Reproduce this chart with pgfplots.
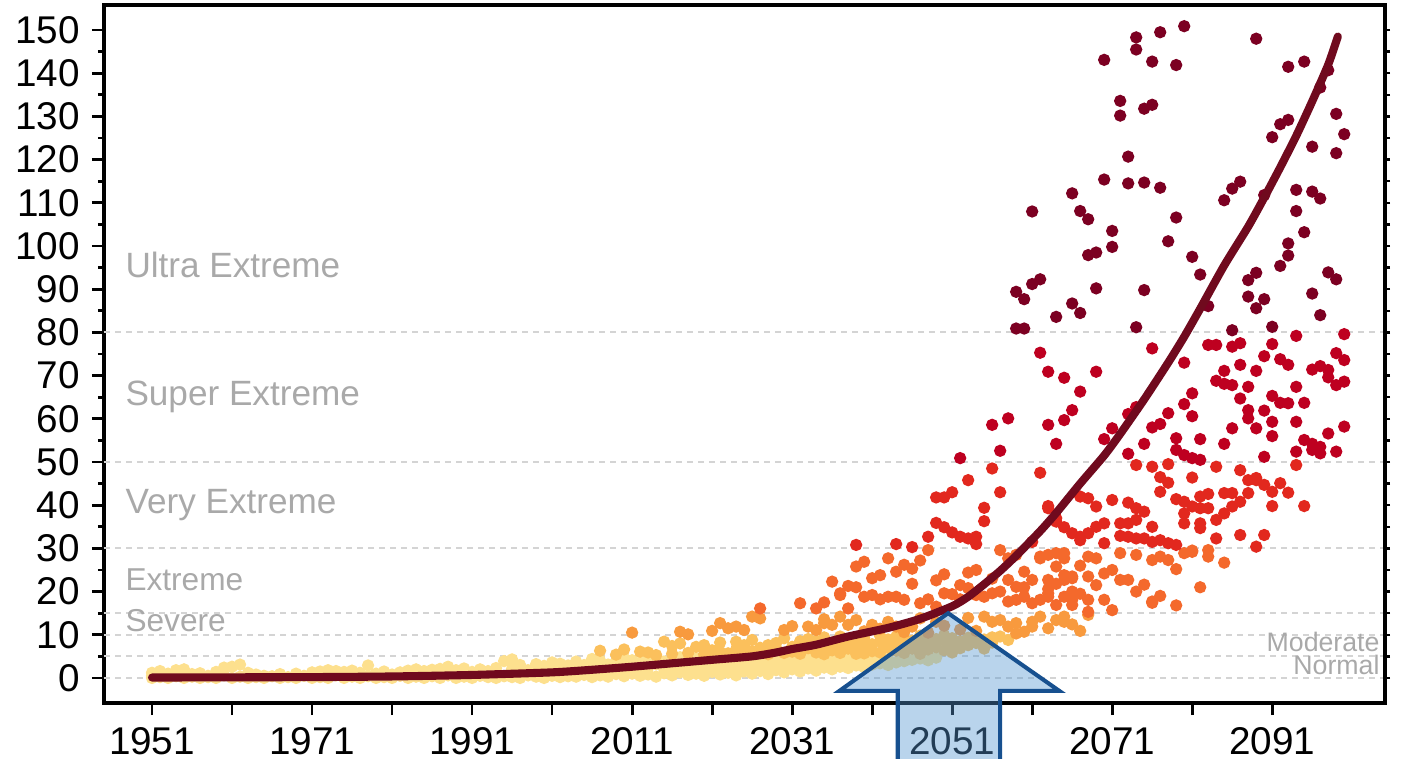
\documentclass[border=0pt]{standalone}
\usepackage{fontspec}
\setmainfont{Liberation Sans}
\usepackage{pgfplots}
\pgfplotsset{compat=1.18}

\definecolor{cNormal}{HTML}{FDE08E}
\definecolor{cModerate}{HTML}{FBC05C}
\definecolor{cSevere}{HTML}{F89A3E}
\definecolor{cExtreme}{HTML}{F4692C}
\definecolor{cVery}{HTML}{E2281E}
\definecolor{cSuper}{HTML}{BE0020}
\definecolor{cUltra}{HTML}{7C0022}
\definecolor{trend}{HTML}{700A1E}
\definecolor{zone}{HTML}{A9A9A9}
\definecolor{gridgray}{HTML}{D4D4D4}
\definecolor{arrowfill}{RGB}{85,150,209}
\definecolor{arrowedge}{HTML}{17508F}

\begin{document}
\begin{tikzpicture}
\pgfplotsset{
  basebox/.style={
    at={(0,0)}, anchor=south west, scale only axis,
    width=128.1mm, height=69.8mm,
    xmin=1945, xmax=2105.1, ymin=-5.8, ymax=155.8,
  },
  dots/.style={only marks, mark=*, mark size=1.55pt, color=#1},
}
% main axis: left and bottom ticks, threshold lines and scatter
\begin{axis}[
  basebox, clip=false,
  axis line style={line width=1pt},
  tick align=outside,
  xtick pos=bottom, ytick pos=left,
  xtick={1951,1971,...,2091},
  extra x ticks={1961,1981,2001,2021,2041,2061,2081},
  extra x tick labels={,,,,,,},
  ytick={0,10,...,150},
  minor ytick={5,15,...,145},
  major tick length=1.2mm,
  minor tick length=0.6mm,
  every tick/.style={black, line width=0.8pt},
  tick label style={font=\fontsize{11}{13}\selectfont},
  /pgf/number format/assume math mode=true,
  /pgf/number format/set thousands separator={},
]
% category thresholds
\pgfplotsinvokeforeach{0,5,10,15,30,50,80}{
  \draw[gridgray, line width=0.6pt, dash pattern=on 0.6mm off 0.5mm]
    (axis cs:1945,#1) -- (axis cs:2105.1,#1);
}

% Normal (0-5)
\addplot[dots=cNormal] coordinates {
(1951,0)(1951,0.5)(1951,1.2)(1952,0.2)(1952,1.6)(1953,0)(1953,1.0)(1954,0.4)(1954,1.8)
(1955,0)(1955,2.0)(1956,0.3)(1956,0.9)(1957,0)(1957,1.1)(1958,0.5)(1958,0.2)(1959,0)(1959,1.4)
(1960,0.6)(1960,2.4)(1961,0)(1961,2.6)(1962,0.3)(1962,3.1)(1963,0)(1963,1.2)(1964,0.2)(1964,0.8)
(1965,0)(1965,0.5)(1966,0.4)(1967,0)(1967,0.9)(1968,0.2)(1969,0)(1969,1.0)(1970,0.5)
(1971,0)(1971,1.3)(1972,0.2)(1972,1.5)(1973,0)(1973,1.8)(1974,0.6)(1974,1.6)(1975,0)(1975,1.4)
(1976,0.3)(1976,1.7)(1977,0)(1977,1.2)(1978,0.4)(1978,2.9)(1979,0)(1979,1.0)(1980,0.2)(1980,1.5)
(1981,0)(1981,0.8)(1982,0.5)(1982,1.3)(1983,0)(1983,1.7)(1984,0.3)(1984,2.0)(1985,0)(1985,1.6)
(1986,0.4)(1986,1.9)(1987,0)(1987,2.1)(1988,0.6)(1988,2.6)(1989,0)(1989,1.8)(1990,0.3)(1990,2.2)
(1991,0)(1991,1.4)(1992,0.5)(1992,2.0)(1993,0.2)(1993,1.6)(1994,0)(1994,2.3)(1995,0.4)(1995,3.9)
(1996,0.2)(1996,4.3)(1996,2.1)(1997,0)(1997,3.0)(1998,0.6)(1998,1.8)(1999,0.3)(1999,2.4)(1999,3.2)
(2000,0)(2000,2.8)(2001,0.5)(2001,1.9)(2001,3.6)(2002,0.2)(2002,2.6)(2002,3.3)(2003,0.4)(2003,1.5)(2003,2.9)
(2004,0.3)(2004,2.2)(2004,3.8)(2005,0.7)(2005,3.0)(2006,0.2)(2006,1.4)(2006,3.5)(2006,4.4)
(2007,0.6)(2007,2.7)(2007,4.0)(2008,0.3)(2008,1.8)(2008,3.1)(2009,0.9)(2009,2.5)(2009,3.9)
(2010,0.4)(2010,2.0)(2010,3.4)(2010,4.6)(2011,1.0)(2011,2.9)(2011,4.1)(2012,0.5)(2012,1.7)(2012,3.6)
(2013,0.8)(2013,2.4)(2013,4.3)(2014,0.3)(2014,3.2)(2014,4.7)(2015,1.1)(2015,2.1)(2015,3.8)
(2016,0.6)(2016,2.8)(2016,4.5)(2017,1.3)(2017,3.3)(2017,4.8)(2018,0.7)(2018,2.2)(2018,4.0)
(2019,1.0)(2019,3.0)(2019,4.6)(2020,0.5)(2020,2.6)(2020,3.9)(2021,1.4)(2021,3.5)(2021,4.9)
(2022,0.8)(2022,2.3)(2022,4.2)(2023,1.2)(2023,3.1)(2023,4.7)(2024,0.6)(2024,2.7)(2024,4.4)
(2025,1.5)(2025,3.4)(2025,4.8)(2026,1.0)(2026,2.5)(2026,4.1)(2027,1.6)(2027,3.7)(2027,4.9)
(2028,0.9)(2028,2.9)(2028,4.5)(2029,1.8)(2029,3.3)(2029,4.6)(2030,1.3)(2030,2.6)(2030,4.2)
(2031,2.0)(2031,3.6)(2031,4.8)(2032,1.5)(2032,3.0)(2032,4.4)(2033,2.2)(2033,3.8)(2033,4.9)
(2034,1.7)(2034,3.2)(2034,4.6)(2035,2.4)(2035,3.9)(2036,2.0)(2036,3.5)(2036,4.7)(2037,2.6)(2037,4.1)
(2038,2.3)(2038,3.7)(2038,4.8)(2039,2.9)(2039,4.3)(2040,2.5)(2040,4.0)(2041,3.1)(2041,4.5)
(2042,3.4)(2042,4.7)(2043,3.0)(2043,4.4)(2044,3.6)(2045,3.9)(2045,4.8)(2046,4.2)(2047,4.5)
(2048,4.1)(2049,4.7)
};

% Moderate (5-10)
\addplot[dots=cModerate] coordinates {
(2007,6.3)(2009,5.4)(2010,6.6)(2012,6.1)(2013,5.9)(2014,5.3)(2015,8.4)(2016,7.4)(2016,5.6)
(2017,8.0)(2018,5.8)(2019,7.2)(2020,7.6)(2020,5.5)(2021,6.4)(2022,8.2)(2022,6.0)(2023,5.7)
(2024,8.4)(2024,6.6)(2025,7.6)(2025,5.4)(2026,8.8)(2026,6.2)(2027,5.9)(2027,7.0)(2028,7.6)(2028,5.5)
(2029,6.9)(2029,8.1)(2030,5.8)(2030,9.2)(2031,7.2)(2031,6.1)(2032,8.5)(2032,5.6)(2033,6.9)(2033,9.0)
(2034,7.6)(2034,5.9)(2034,8.6)(2035,7.1)(2035,9.4)(2035,5.5)(2036,6.4)(2036,8.2)
(2037,8.0)(2037,5.8)(2037,9.6)(2038,6.8)(2038,7.9)(2039,5.6)(2039,8.8)(2039,7.3)
(2040,6.9)(2040,9.3)(2040,5.7)(2041,7.8)(2041,6.2)(2042,8.4)(2042,5.9)(2042,9.7)
(2043,7.0)(2043,8.9)(2044,6.3)(2044,9.5)(2044,7.6)(2045,8.0)(2045,5.8)(2045,9.1)
(2046,6.8)(2046,8.6)(2047,7.5)(2047,9.8)(2047,5.6)(2048,8.3)(2048,6.6)(2048,9.4)
(2049,7.1)(2049,9.0)(2050,8.7)(2050,6.4)(2050,9.9)(2051,7.8)(2051,9.2)(2051,5.9)
(2052,8.5)(2052,6.9)(2053,9.3)(2053,7.6)(2054,8.1)(2054,9.7)(2055,8.9)(2055,6.8)
(2056,9.4)(2056,8.2)(2057,9.6)(2058,8.8)
};

% Severe (10-15)
\addplot[dots=cSevere] coordinates {
(2011,10.5)(2017,10.7)(2018,10.1)(2021,10.9)(2022,12.7)(2023,11.5)(2024,11.9)(2025,11.1)
(2026,14.2)(2027,13.8)(2030,11.1)(2031,12.0)(2033,11.9)(2034,11.1)(2035,12.7)(2035,13.6)
(2036,12.3)(2037,14.2)(2038,12.3)(2039,13.4)(2040,10.8)(2041,12.3)(2042,11.4)(2043,13.0)
(2044,11.9)(2045,10.6)(2046,11.9)(2047,13.8)(2048,10.5)(2049,13.0)(2050,12.1)(2052,11.2)
(2053,13.9)(2054,10.9)(2055,14.2)(2056,13.0)(2057,13.4)(2058,11.9)(2059,12.7)(2059,10.3)
(2060,10.7)(2061,13.0)(2061,11.9)(2062,14.2)(2063,11.5)(2064,13.4)(2065,13.0)(2065,14.2)
(2066,12.4)(2067,10.9)(2068,14.6)
};

% Extreme (15-30)
\addplot[dots=cExtreme] coordinates {
(2027,16.1)(2032,17.3)(2034,16.1)(2035,17.5)(2036,22.3)(2037,19.6)(2037,19.2)(2038,21.3)(2038,16.1)
(2039,25.8)(2039,21.0)(2040,26.9)(2040,18.8)(2041,23.1)(2041,19.2)(2042,18.2)(2042,23.8)
(2043,27.7)(2043,18.8)(2044,24.6)(2044,18.8)(2045,26.2)(2045,18.1)(2046,21.8)(2046,25.3)
(2047,27.2)(2047,17.3)(2048,29.6)(2048,18.2)(2049,16.5)(2049,22.6)(2050,19.6)(2050,24.0)
(2051,19.4)(2052,18.2)(2052,21.5)(2053,24.4)(2053,20.8)(2054,25.0)(2054,19.2)(2055,18.8)
(2056,19.6)(2056,23.0)(2057,20.0)(2057,29.6)(2058,17.7)(2058,27.7)(2058,22.7)
(2059,18.1)(2059,28.5)(2059,21.1)(2060,18.8)(2060,24.6)(2060,21.0)(2061,17.3)(2061,22.7)
(2062,18.1)(2062,27.7)(2062,28.1)(2063,18.8)(2063,28.5)(2063,20.6)(2063,22.7)(2063,19.6)
(2064,16.9)(2064,25.8)(2064,21.8)(2064,28.9)(2065,18.8)(2065,27.7)(2065,23.8)(2065,28.9)(2065,22.7)
(2066,18.1)(2066,23.1)(2066,23.5)(2066,20.0)(2066,16.9)(2067,26.0)(2067,19.5)
(2068,28.1)(2068,23.5)(2068,18.1)(2068,15.3)(2069,27.7)(2069,21.5)(2070,18.1)(2070,24.2)
(2071,25.0)(2071,15.7)(2072,28.9)(2072,22.7)(2073,22.7)(2074,28.5)(2074,20.0)(2075,21.6)
(2076,27.3)(2076,17.7)(2076,17.4)(2077,28.1)(2077,19.0)(2078,27.3)(2079,25.2)(2079,16.8)
(2080,28.9)(2081,29.2)(2081,29.5)(2082,21.0)(2083,29.6)(2083,28.1)(2085,26.7)
};

% Very Extreme (30-50)
\addplot[dots=cVery] coordinates {
(2039,30.8)(2044,31.0)(2046,30.3)(2048,32.7)(2049,41.8)(2049,35.9)(2050,41.8)(2050,34.9)
(2051,43.0)(2051,33.7)(2052,32.7)(2053,32.3)(2053,45.8)(2054,32.7)(2054,31.0)(2055,39.4)(2055,36.3)
(2056,48.5)(2057,43.0)(2061,31.5)(2062,47.5)(2063,39.8)(2063,39.3)(2064,37.0)(2064,36.2)
(2065,34.9)(2066,33.5)(2067,31.9)(2067,42.0)(2067,32.7)(2068,41.6)(2068,33.5)(2069,39.7)(2069,35.0)
(2070,35.8)(2070,31.2)(2071,41.2)(2072,32.9)(2072,35.8)(2073,35.8)(2073,32.7)(2073,40.6)
(2074,49.3)(2074,36.6)(2074,32.3)(2074,39.3)(2075,32.3)(2075,38.5)(2076,48.9)(2076,35.0)(2076,31.5)
(2077,46.5)(2077,43.1)(2077,31.9)(2078,49.5)(2078,45.2)(2078,31.2)(2079,41.4)(2079,30.8)
(2080,40.8)(2080,38.1)(2080,35.8)(2081,46.4)(2081,39.7)(2082,42.0)(2082,39.3)(2082,35.8)(2082,34.7)
(2083,42.6)(2083,39.3)(2084,48.9)(2084,36.6)(2084,32.3)(2085,38.1)(2085,42.8)(2086,39.7)(2086,42.8)
(2087,48.1)(2087,40.8)(2087,33.1)(2088,42.8)(2088,45.8)(2089,45.8)(2089,46.3)(2089,30.4)
(2090,44.7)(2090,33.1)(2091,43.1)(2091,39.8)(2092,45.1)(2093,42.9)(2094,49.3)(2095,39.8)
};

% Super Extreme (50-80)
\addplot[dots=cSuper] coordinates {
(2052,50.9)(2056,58.6)(2057,52.6)(2058,60.1)(2062,75.3)(2063,70.9)(2063,58.6)(2064,54.2)
(2065,69.5)(2065,59.7)(2066,62.0)(2067,66.3)(2069,70.9)(2070,55.3)(2071,57.8)(2073,61.1)
(2073,51.9)(2074,62.7)(2075,54.2)(2076,76.3)(2076,58.0)(2077,58.8)(2078,61.3)
(2079,55.5)(2079,52.8)(2080,73.0)(2080,63.4)(2080,51.6)(2081,65.9)(2081,60.6)(2081,50.9)
(2082,50.5)(2082,55.3)(2083,77.1)(2084,77.1)(2084,68.8)(2085,71.1)(2085,68.1)(2085,54.2)
(2086,76.7)(2086,67.8)(2086,57.8)(2087,77.5)(2087,72.5)(2087,64.7)(2088,67.4)(2088,62.0)(2088,60.1)
(2089,71.1)(2089,57.8)(2090,74.5)(2090,61.9)(2090,51.2)(2091,77.3)(2091,65.3)(2091,59.3)(2091,56.0)
(2092,73.8)(2092,63.7)(2093,72.5)(2093,63.6)(2094,79.2)(2094,67.4)(2094,59.3)(2094,52.4)
(2095,63.7)(2095,55.1)(2096,71.4)(2096,54.2)(2096,52.8)(2097,72.2)(2097,53.5)(2097,52.0)
(2098,71.3)(2098,69.6)(2098,56.6)(2099,75.2)(2099,67.8)(2099,52.4)(2100,79.6)(2100,73.6)(2100,68.6)(2100,58.2)
};

% Ultra Extreme (80+)
\addplot[dots=cUltra] coordinates {
(2059,89.4)(2059,80.9)(2060,87.7)(2060,80.9)(2061,108.0)(2061,91.2)(2062,92.3)(2064,83.6)
(2066,112.2)(2066,86.7)(2067,108.1)(2067,84.5)(2068,106.2)(2068,97.9)(2069,98.5)(2069,90.2)
(2070,143.1)(2070,115.4)(2071,103.5)(2071,99.8)(2072,133.6)(2072,130.2)(2073,120.7)(2073,114.5)
(2074,148.3)(2074,145.5)(2074,81.2)(2075,131.8)(2075,114.7)(2075,89.8)(2076,142.7)(2076,132.7)
(2077,149.5)(2077,113.5)(2078,101.1)(2079,141.9)(2079,106.6)(2080,150.9)(2081,97.5)(2082,93.4)
(2083,86.1)(2085,110.6)(2086,113.3)(2086,80.5)(2087,114.9)(2088,92.1)(2088,88.3)(2089,148.0)
(2089,93.8)(2089,85.6)(2090,111.8)(2090,87.7)(2091,125.2)(2091,81.3)(2092,128.2)(2092,95.4)
(2093,141.5)(2093,129.2)(2093,100.6)(2093,97.8)(2094,113.0)(2094,108.1)(2095,142.7)(2095,103.2)
(2096,123.0)(2096,112.6)(2096,89.0)(2097,136.7)(2097,111.0)(2097,84.0)(2098,140.7)(2098,93.9)
(2099,130.6)(2099,121.5)(2099,92.3)(2100,125.9)
};

% category names
\begin{scope}[every node/.style={inner sep=0pt, text=zone}]
\node[anchor=base west, font=\fontsize{10}{12}\selectfont] at (axis cs:1947.6,92.8) {Ultra Extreme};
\node[anchor=base west, font=\fontsize{10}{12}\selectfont] at (axis cs:1947.6,63.0) {Super Extreme};
\node[anchor=base west, font=\fontsize{10}{12}\selectfont] at (axis cs:1947.6,38.1) {Very Extreme};
\node[anchor=base west, font=\fontsize{9}{11}\selectfont] at (axis cs:1947.6,20.2) {Extreme};
\node[anchor=base west, font=\fontsize{9}{11}\selectfont] at (axis cs:1947.6,10.7) {Severe};
\node[anchor=base east, font=\fontsize{7.6}{9}\selectfont] at (axis cs:2104.5,6.2) {Moderate};
\node[anchor=base east, font=\fontsize{7.6}{9}\selectfont] at (axis cs:2104.5,0.8) {Normal};
\end{scope}
\end{axis}

% overlay: right-hand ticks, trend curve and highlight arrow on top of the dots
\begin{axis}[
  basebox, clip=false,
  axis x line=none, axis y line*=right,
  axis line style={line width=1pt},
  tick align=outside,
  ytick={0,5,...,150}, yticklabel=\empty,
  major tick length=0.5mm,
  every tick/.style={black, line width=0.7pt},
]
% smoothed trend
\addplot[trend, line width=2.3pt, line cap=round, smooth, tension=0.4] coordinates {
(1951,0.1)(1961,0.15)(1971,0.2)(1981,0.35)(1991,0.7)(2001,1.3)(2006,1.9)(2011,2.6)(2016,3.4)
(2021,4.2)(2026,5.0)(2029,5.9)(2031,6.7)(2034,7.7)(2038,9.6)(2043,11.6)(2047,13.7)(2051,16.6)
(2053,18.8)(2055,21.7)(2057,24.8)(2059,28.3)(2062,34.0)(2064,38.2)(2067,45.0)(2070,51.5)
(2072,56.5)(2075,64.5)(2078,73.0)(2080,79.0)(2082,85.5)(2085,95.5)(2088,104.5)(2090,111.2)
(2092,118.2)(2094,125.5)(2096,133.5)(2098,142.0)(2099.2,148.5)
};
% highlight arrow at mid-century
\draw[arrowedge, line width=1.15pt, line join=miter, fill=arrowfill, fill opacity=0.41]
  (axis cs:2050.5,15.0) -- (axis cs:2064.4,-3.0) -- (axis cs:2057.0,-3.0)
  -- (axis cs:2057.0,-30) -- (axis cs:2044.2,-30) -- (axis cs:2044.2,-3.0)
  -- (axis cs:2036.9,-3.0) -- cycle;
\end{axis}

\pgfresetboundingbox
\path[use as bounding box] (-10.4mm,-5.5mm) rectangle (130.0mm,70.3mm);
\end{tikzpicture}
\end{document}
